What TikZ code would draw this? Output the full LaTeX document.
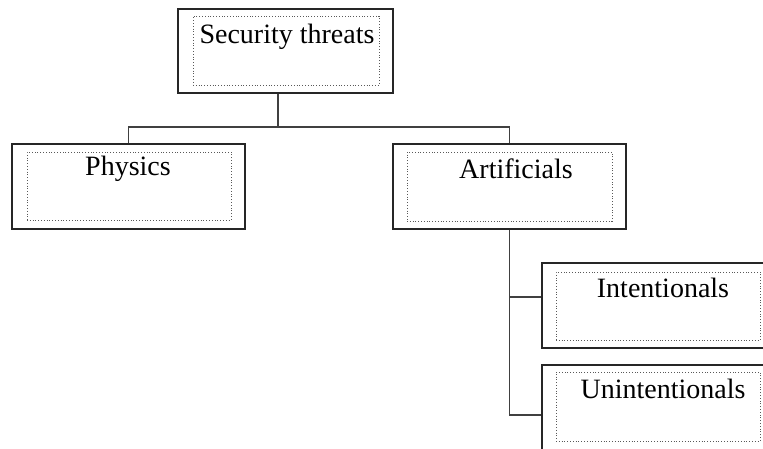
\documentclass[tikz,border=0pt]{standalone}
\usepackage{fontspec}
\setmainfont{Liberation Serif}
\begin{document}
\begin{tikzpicture}[x=1pt,y=-1pt,
  outerbox/.style={draw=black!85,line width=1.4pt,inner sep=0pt,minimum width=#1,minimum height=85pt},
  innerbox/.style={draw=black!65,dotted,line width=0.8pt,inner sep=0pt,minimum width=#1,minimum height=69pt},
  label/.style={anchor=base,inner sep=0pt,font=\fontsize{28}{34}\selectfont,text=black},
  conn/.style={draw=black!75,line width=1.6pt}]
\useasboundingbox (0,0) rectangle (763,448);
\clip (0,0) rectangle (763,448);
% boxes
\node[outerbox=215pt,minimum height=84pt] (top) at (285.5,51) {};
\node[innerbox=186pt] (topi) at (286,50.5) {};
\node[label] (topt) at (287,43) {Security threats};

\node[outerbox=233pt] (phys) at (128.5,186.5) {};
\node[innerbox=204pt,minimum height=68pt] (physi) at (129,186) {};
\node[label] (physt) at (128,175) {Physics};

\node[outerbox=233pt] (art) at (509.5,186.5) {};
\node[innerbox=205pt] (arti) at (509.5,186.5) {};
\node[label] (artt) at (516,178) {Artificials};

\node[outerbox=234pt] (int) at (659,305.5) {};
\node[innerbox=204pt,minimum height=68pt] (inti) at (658,306) {};
\node[label] (intt) at (663,297) {Intentionals};

\node[outerbox=234pt] (unint) at (659,407.5) {};
\node[innerbox=204pt] (uninti) at (658,406.5) {};
\node[label] (unintt) at (663,398) {Unintentionals};

% connectors
\coordinate (bus) at (278,127);
\coordinate (ib) at (0,297);
\coordinate (ub) at (0,415);
\draw[conn] (bus |- top.south) -- (bus);
\draw[conn] (phys.north) |- (art.north |- bus) -- (art.north);
\draw[conn] (art.south) |- (unint.west |- ub);
\draw[conn] (art.south |- ib) -- (int.west |- ib);
\end{tikzpicture}
\end{document}
